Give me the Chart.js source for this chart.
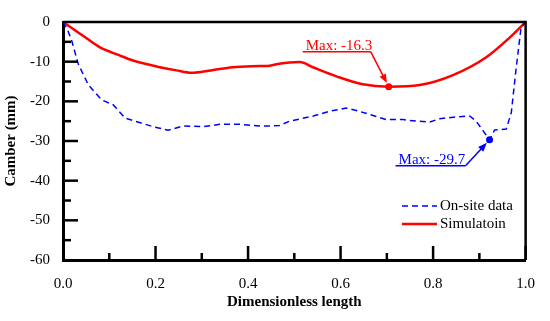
<!DOCTYPE html>
<html>
<head>
<meta charset="utf-8">
<script src="https://cdn.jsdelivr.net/npm/chart.js@4/dist/chart.umd.min.js"></script>
<style>
  html, body { margin: 0; padding: 0; background: #fff; }
  #wrap { width: 550px; height: 321px; }
</style>
</head>
<body>
<div id="wrap"><canvas id="camberChart"></canvas></div>
<script>
// Simulation curve (red)
const simX = [0, 0.04, 0.08, 0.12, 0.151, 0.18, 0.209, 0.245, 0.278, 0.32, 0.367, 0.425, 0.447, 0.468, 0.49, 0.512, 0.54, 0.591, 0.648, 0.704, 0.771, 0.843, 0.915, 0.965, 1.0];
const simY = [0, -3.2, -6.4, -8.3, -9.7, -10.6, -11.4, -12.2, -12.8, -12.2, -11.4, -11.1, -11.0, -10.5, -10.2, -10.1, -11.4, -13.7, -15.7, -16.3, -15.9, -13.4, -8.9, -4.0, 0];

// On-site measurement (blue dashed)
const siteX = [0, 0.01, 0.019, 0.033, 0.055, 0.083, 0.109, 0.134, 0.167, 0.195, 0.227, 0.26, 0.303, 0.339, 0.382, 0.425, 0.447, 0.468, 0.49, 0.541, 0.576, 0.612, 0.634, 0.663, 0.699, 0.735, 0.764, 0.793, 0.814, 0.85, 0.879, 0.893, 0.908, 0.922, 0.933, 0.958, 0.969, 0.979, 0.99, 1.0];
const siteY = [0, -2.0, -4.8, -10.6, -15.9, -19.6, -20.9, -24.2, -25.4, -26.4, -27.3, -26.2, -26.4, -25.8, -25.8, -26.2, -26.2, -26.1, -25.0, -23.7, -22.5, -21.7, -22.3, -23.3, -24.6, -24.6, -25.0, -25.2, -24.4, -23.9, -23.7, -25.0, -27.4, -29.7, -27.2, -27.0, -22.9, -12.2, -1.5, 0];

const xTicks = [0, 0.2, 0.4, 0.6, 0.8, 1.0];
const yTicks = [0, -10, -20, -30, -40, -50, -60];
const labels = ['On-site data', 'Simulatoin'];

const serif = '"Liberation Serif", "Times New Roman", serif';

function toPoints(xs, ys) {
    return xs.map((x, i) => ({ x: x, y: ys[i] }));
}
function minIndex(arr) {
    let k = 0;
    arr.forEach((v, i) => { if (v < arr[k]) k = i; });
    return k;
}
const simMin = minIndex(simY);
const siteMin = minIndex(siteY);

function arrow(ctx, x1, y1, x2, y2) {
    const a = Math.atan2(y2 - y1, x2 - x1);
    const len = 9, w = 3.5;
    ctx.beginPath();
    ctx.moveTo(x1, y1);
    ctx.lineTo(x2 - Math.cos(a) * len * 0.6, y2 - Math.sin(a) * len * 0.6);
    ctx.stroke();
    ctx.beginPath();
    ctx.moveTo(x2, y2);
    ctx.lineTo(x2 - Math.cos(a) * len - Math.sin(a) * w, y2 - Math.sin(a) * len + Math.cos(a) * w);
    ctx.lineTo(x2 - Math.cos(a) * len + Math.sin(a) * w, y2 - Math.sin(a) * len - Math.cos(a) * w);
    ctx.closePath();
    ctx.fill();
}

// box, inward ticks, legend and max labels
const decor = {
    id: 'decor',
    afterDatasetsDraw(chart) {
        const ctx = chart.ctx;
        const area = chart.chartArea;
        const xs = chart.scales.x, ys = chart.scales.y;
        ctx.save();
        ctx.strokeStyle = '#000';
        ctx.lineWidth = 2.5;
        ctx.beginPath();
        ctx.moveTo(area.left, area.top);
        ctx.lineTo(area.right, area.top);
        ctx.lineTo(area.right, area.bottom);
        ctx.stroke();

        ctx.lineWidth = 2.5;
        for (let v = 0.1; v < 1; v += 0.1) {
            const px = xs.getPixelForValue(v);
            const major = Math.round(v * 10) % 2 === 0;
            ctx.beginPath();
            ctx.moveTo(px, area.bottom);
            ctx.lineTo(px, area.bottom - (major ? 14 : 7));
            ctx.stroke();
        }
        for (let v = -5; v > -60; v -= 5) {
            const py = ys.getPixelForValue(v);
            const major = v % 10 === 0;
            ctx.beginPath();
            ctx.moveTo(area.left, py);
            ctx.lineTo(area.left + (major ? 15 : 8), py);
            ctx.stroke();
        }

        // legend
        const lx = 402, ly = 206;
        chart.data.datasets.forEach((ds, i) => {
            const y = ly + i * 18;
            ctx.strokeStyle = ds.borderColor;
            ctx.lineWidth = ds.borderWidth;
            ctx.setLineDash(ds.borderDash || []);
            ctx.beginPath();
            ctx.moveTo(lx, y);
            ctx.lineTo(lx + 35, y);
            ctx.stroke();
            ctx.setLineDash([]);
            ctx.fillStyle = '#000';
            ctx.font = '15px ' + serif;
            ctx.textBaseline = 'middle';
            ctx.fillText(ds.label, lx + 38, y);
        });

        // max annotations
        const notes = [
            { ds: 1, idx: simMin, color: '#ff0000', text: 'Max: -16.3', tx: -86, ty: -35, ul: 68, ex: -18, ey: -35 },
            { ds: 0, idx: siteMin, color: '#0000ff', text: 'Max: -29.7', tx: -94, ty: 26, ul: 70, ex: -24, ey: 26 }
        ];
        notes.forEach(n => {
            const el = chart.getDatasetMeta(n.ds).data[n.idx];
            const px = el.x, py = el.y;
            ctx.fillStyle = n.color;
            ctx.strokeStyle = n.color;
            ctx.lineWidth = 1.5;
            ctx.font = '15px ' + serif;
            ctx.textBaseline = 'alphabetic';
            ctx.fillText(n.text, px + n.tx + 3, py + n.ty - 2);
            ctx.beginPath();
            ctx.moveTo(px + n.tx, py + n.ty);
            ctx.lineTo(px + n.ex, py + n.ey);
            ctx.stroke();
            const dx = -n.ex, dy = -n.ey;
            const d = Math.hypot(dx, dy);
            arrow(ctx, px + n.ex, py + n.ey, px - dx / d * 4, py - dy / d * 4);
        });
        ctx.restore();
    }
};

const ctx = document.getElementById('camberChart').getContext('2d');
new Chart(ctx, {
    type: 'line',
    data: {
        datasets: [{
            label: labels[0],
            data: toPoints(siteX, siteY),
            borderColor: '#0000ff',
            backgroundColor: '#0000ff',
            borderWidth: 1.5,
            borderDash: [6, 4],
            tension: 0,
            pointRadius: ctx => ctx.dataIndex === siteMin ? 3.5 : 0,
            pointBorderWidth: 0,
            fill: false
        }, {
            label: labels[1],
            data: toPoints(simX, simY),
            borderColor: '#ff0000',
            backgroundColor: '#ff0000',
            borderWidth: 2.5,
            cubicInterpolationMode: 'monotone',
            pointRadius: ctx => ctx.dataIndex === simMin ? 3.5 : 0,
            pointBorderWidth: 0,
            fill: false
        }]
    },
    options: {
        responsive: true,
        maintainAspectRatio: false,
        animation: false,
        layout: { padding: { top: 17, right: 24, left: 0, bottom: 0 } },
        plugins: {
            legend: { display: false },
            tooltip: { enabled: false }
        },
        scales: {
            x: {
                type: 'linear',
                min: 0,
                max: 1,
                afterBuildTicks: s => { s.ticks = xTicks.map(v => ({ value: v })); },
                afterFit: s => { s.height = 61; },
                grid: { display: false, drawTicks: false },
                border: { display: true, color: '#000', width: 3 },
                ticks: {
                    color: '#000',
                    font: { family: serif, size: 15 },
                    padding: 15,
                    maxRotation: 0,
                    callback: v => v.toFixed(1)
                },
                title: {
                    display: true,
                    text: 'Dimensionless length',
                    color: '#000',
                    font: { family: serif, size: 15, weight: 'bold' },
                    padding: { top: 0, bottom: 10 }
                }
            },
            y: {
                min: -60,
                max: 0,
                afterBuildTicks: s => { s.ticks = yTicks.map(v => ({ value: v })); },
                afterFit: s => { s.width = 63; },
                grid: { display: false, drawTicks: false },
                border: { display: true, color: '#000', width: 3 },
                ticks: {
                    color: '#000',
                    font: { family: serif, size: 15 },
                    padding: 13
                },
                title: {
                    display: true,
                    text: 'Camber (mm)',
                    color: '#000',
                    font: { family: serif, size: 15, weight: 'bold' },
                    padding: { top: 2, bottom: 0 }
                }
            }
        }
    },
    plugins: [decor]
});
</script>
</body>
</html>
